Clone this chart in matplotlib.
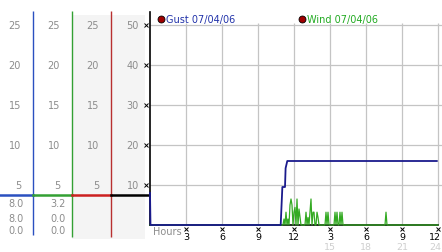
import numpy as np
import matplotlib.pyplot as plt

# valores
horas_ticks = [3, 6, 9, 12, 15, 18, 21, 24]
rotulos_hora = ['3', '6', '9', '12', '3', '6', '9', '12']
rotulos_hora24 = ['', '', '', '', '15', '18', '21', '24']
niveis_y = [10, 20, 30, 40, 50]
escala_col = ['5', '10', '15', '20', '25']      # colunas 1 a 3
escala_col4 = ['10', '20', '30', '40', '50']    # coluna 4
col1_valores = ['8.0', '8.0', '0.0']
col2_valores = ['3.2', '0.0', '0.0']
linhas_valores = [5.5, 1.75, -1.25]             # posicao vertical das linhas de valores

# rajada (Gust)
gust_t = [0, 0.04, 10.89, 11.03, 11.25, 11.3, 11.44, 23.9]
gust_v = [8, 0, 0, 9.5, 9.5, 14.2, 16, 16]

# vento (Wind) - picos lidos, resto zero
wind_pico_t = [11.17, 11.3, 11.47, 11.64, 11.72, 11.86, 11.97, 12.1, 12.28, 12.42, 12.53,
               13.03, 13.19, 13.33, 13.44, 13.58, 13.69, 13.89, 14.03, 14.67, 14.83,
               15.44, 15.61, 15.83, 16.03, 19.69]
wind_pico_v = [1.5, 3.2, 1.5, 5.0, 6.5, 5.0, 3.2, 4.4, 6.5, 4.0, 1.9,
               3.2, 1.9, 3.2, 6.5, 3.2, 3.2, 3.2, 1.9, 3.2, 3.2,
               3.2, 3.2, 3.2, 3.2, 3.2]

wind_t = np.arange(0, 24 * 12 + 1) / 12.0
wind_v = np.zeros(len(wind_t))
for h, v in zip(wind_pico_t, wind_pico_v):
    wind_v[int(round(h * 12))] = v

cinza_txt = '#8c8c8c'
fs = 7

W, H = 442, 253
fig = plt.figure(figsize=(W / 100, H / 100), dpi=100)
fig.patch.set_facecolor('white')

ymin, ymax = 0, 53.25
bottom = 27 / H
height = 213 / H

# ---- painel esquerdo (escalas) - criado antes para ficar por baixo
axl = fig.add_axes([0, bottom, 149 / W, height])
axl.set_xlim(0, 149)
axl.set_ylim(ymin, ymax)
axl.axis('off')

axl.fill_between([72, 145], -3.5, 52.5, color='#f4f4f4', lw=0, zorder=0, clip_on=False)

axl.vlines(33, -2.5, 53.5, color='#2a50c0', lw=1.0, clip_on=False)
axl.vlines(72, -3.0, 53.5, color='#33a033', lw=1.0, clip_on=False)
axl.vlines(111, -3.0, 53.5, color='#b83030', lw=1.0, clip_on=False)

axl.plot([0, 33], [7.5, 7.5], color='#2a50c0', lw=1.8, clip_on=False)
axl.plot([33, 72], [7.5, 7.5], color='#33a033', lw=1.8, clip_on=False)
axl.plot([72, 111], [7.5, 7.5], color='#cc2020', lw=1.8, clip_on=False)
axl.plot([111, 149], [7.5, 7.5], color='black', lw=1.8, clip_on=False)

for nv, e, e4 in zip(niveis_y, escala_col, escala_col4):
    axl.text(21, nv, e, ha='right', va='center', fontsize=fs, color=cinza_txt)
    axl.text(60, nv, e, ha='right', va='center', fontsize=fs, color=cinza_txt)
    axl.text(99, nv, e, ha='right', va='center', fontsize=fs, color=cinza_txt)
    axl.text(139, nv, e4, ha='right', va='center', fontsize=fs, color=cinza_txt)

for yv, a, b in zip(linhas_valores, col1_valores, col2_valores):
    axl.text(23.5, yv, a, ha='right', va='center', fontsize=fs, color=cinza_txt)
    axl.text(66, yv, b, ha='right', va='center', fontsize=fs, color=cinza_txt)

# ---- painel principal
ax = fig.add_axes([150 / W, bottom, 291.6 / W, height])
ax.patch.set_alpha(0)
ax.set_xlim(0, 24.3)
ax.set_ylim(ymin, ymax)
for s in ['top', 'right', 'bottom']:
    ax.spines[s].set_visible(False)
ax.spines['left'].set_color('black')
ax.spines['left'].set_linewidth(1.2)
ax.set_xticks([])
ax.set_yticks([])

# grade
ax.hlines(niveis_y, 0, 24.3, color='#c4c4c4', lw=0.9, zorder=1)
ax.vlines(horas_ticks, 0, 50.5, color='#c4c4c4', lw=0.9, zorder=1)

# linha base
ax.plot([0, 24], [0, 0], color='black', lw=1.2, zorder=2, clip_on=False)

ax.plot(wind_t, wind_v, color='#33aa22', lw=0.9, zorder=3, clip_on=False)
ax.plot(gust_t, gust_v, color='#1a1a8c', lw=1.3, zorder=4, clip_on=False)

# marcas "x" dos eixos
ax.plot(horas_ticks, [-1.1] * len(horas_ticks), 'x', color='black', ms=2.2, mew=0.7, clip_on=False)
ax.plot([-0.3] * len(niveis_y), niveis_y, 'x', color='black', ms=2.2, mew=0.7, clip_on=False)

for i, (h, r1, r2) in enumerate(zip(horas_ticks, rotulos_hora, rotulos_hora24)):
    if i == len(horas_ticks) - 1:
        # ultimo rotulo encostado na borda direita
        ax.text(24.25, -3.0, r1, ha='right', va='center', fontsize=6.8, color='black')
        ax.text(24.25, -5.5, r2, ha='right', va='center', fontsize=6.8, color='#cfcfcf')
    else:
        ax.text(h, -3.0, r1, ha='center', va='center', fontsize=6.8, color='black')
        ax.text(h, -5.5, r2, ha='center', va='center', fontsize=6.8, color='#cfcfcf')
ax.text(0.25, -1.6, 'Hours', ha='left', va='center', fontsize=fs, color=cinza_txt)

# legenda
ax.plot([0.92], [51.6], 'o', ms=5, mfc='#a00000', mec='black', mew=0.6, clip_on=False)
ax.text(1.33, 51.6, 'Gust 07/04/06', ha='left', va='center', fontsize=fs, color='#2233aa')
ax.plot([12.67], [51.6], 'o', ms=5, mfc='#a00000', mec='black', mew=0.6, clip_on=False)
ax.text(13.08, 51.6, 'Wind 07/04/06', ha='left', va='center', fontsize=fs, color='#22aa22')

fig.savefig('out.png', dpi=100, facecolor='white')
